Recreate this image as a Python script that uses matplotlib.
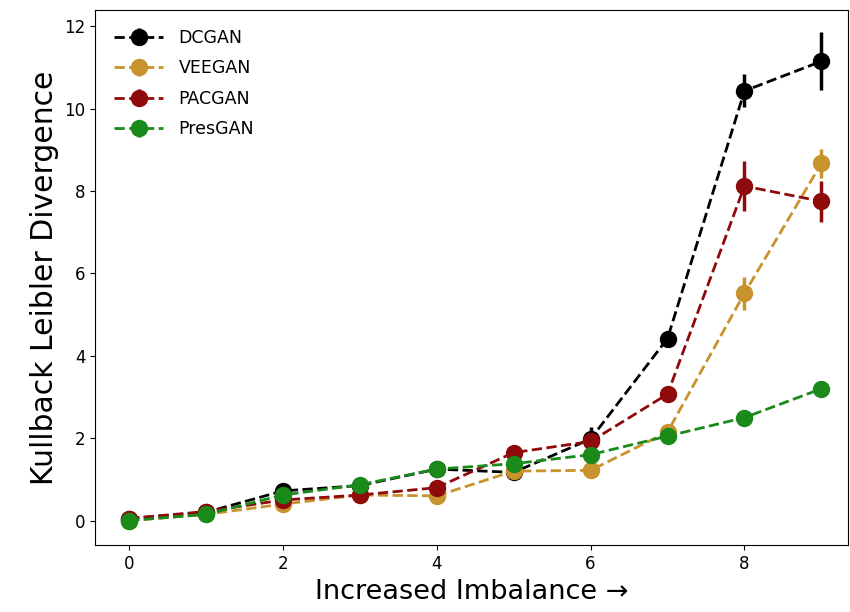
import matplotlib
matplotlib.use("Agg")
import matplotlib.pyplot as plt
import numpy as np

x = list(range(10))
dcgan = [0.05, 0.2, 0.72, 0.85, 1.25, 1.17, 1.98, 4.42, 10.43, 11.15]
dcgan_err = [0.03, 0.03, 0.08, 0.05, 0.05, 0.05, 0.3, 0.1, 0.4, 0.7]
veegan = [0.0, 0.15, 0.4, 0.62, 0.6, 1.2, 1.22, 2.15, 5.52, 8.67]
veegan_err = [0.02, 0.02, 0.05, 0.05, 0.05, 0.05, 0.05, 0.1, 0.4, 0.35]
pacgan = [0.05, 0.22, 0.5, 0.62, 0.8, 1.65, 1.92, 3.07, 8.12, 7.75]
pacgan_err = [0.02, 0.03, 0.05, 0.05, 0.05, 0.05, 0.1, 0.1, 0.6, 0.5]
presgan = [0.0, 0.15, 0.62, 0.87, 1.25, 1.38, 1.6, 2.05, 2.5, 3.2]
presgan_err = [0.02, 0.02, 0.05, 0.05, 0.05, 0.05, 0.05, 0.05, 0.05, 0.05]

names = ["DCGAN", "VEEGAN", "PACGAN", "PresGAN"]
series = [dcgan, veegan, pacgan, presgan]
errs = [dcgan_err, veegan_err, pacgan_err, presgan_err]
colors = ["black", "#c8922c", "#8f0a0a", "#1a8a1a"]

fig = plt.figure(figsize=(8.5, 6.12), dpi=100)
ax = fig.add_axes([0.112, 0.109, 0.886, 0.875])
for n, s, e, c in zip(names, series, errs, colors):
    ax.errorbar(x, s, yerr=e, fmt='o--', color=c, ms=11.5, lw=2, elinewidth=2.5, label=n)

ax.set_xlim(-0.44, 9.35)
ax.set_ylim(-0.6, 12.4)
ax.set_yticks([0, 2, 4, 6, 8, 10, 12])
ax.set_xticks([0, 2, 4, 6, 8])
ax.tick_params(labelsize=12)
ax.set_xlabel("Increased Imbalance \u2192", fontsize=19.5)
ax.set_ylabel("Kullback Leibler Divergence", fontsize=21.5)
ax.legend(loc='upper left', frameon=False, fontsize=12.5, handlelength=2.8,
          handletextpad=0.9, labelspacing=0.72, borderaxespad=0.7)
fig.savefig("out.png", dpi=100)
